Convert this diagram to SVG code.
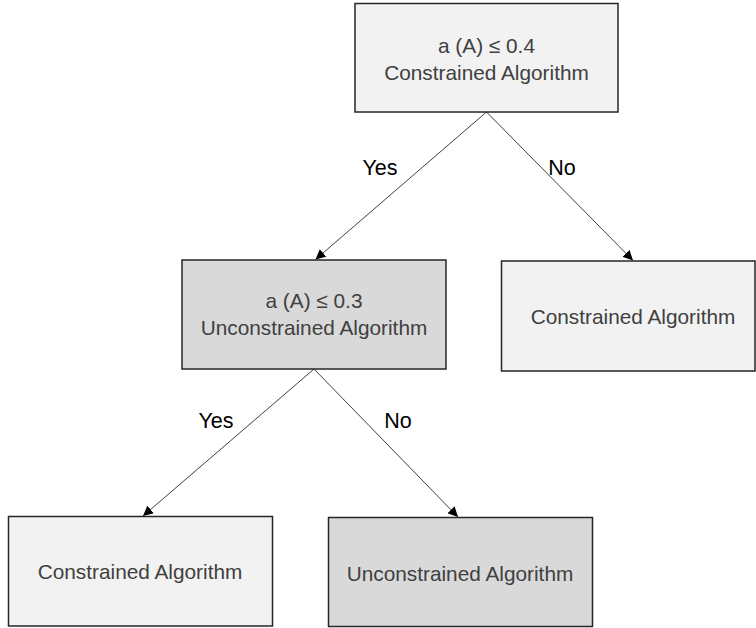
<svg xmlns="http://www.w3.org/2000/svg" width="756" height="628" viewBox="0 0 756 628">
<style>
.box{stroke:#262626;stroke-width:1.5}
.light{fill:#f2f2f2}
.dark{fill:#d9d9d9}
.t{font-family:"Liberation Sans",Arial,sans-serif;font-size:20.8px;fill:#404040;text-anchor:middle}
.lbl{font-family:"Liberation Sans",Arial,sans-serif;font-size:21.5px;fill:#000;text-anchor:middle}
.edge{stroke:#404040;stroke-width:1;fill:none;marker-end:url(#arr)}
</style>
<defs>
<marker id="arr" viewBox="0 0 10 10" refX="10" refY="5" markerWidth="10" markerHeight="10" markerUnits="userSpaceOnUse" orient="auto">
<path d="M0,0 L10,5 L0,10 z" fill="#000"/>
</marker>
</defs>
<rect width="756" height="628" fill="#fff"/>
<g id="connectors">
<line class="edge" x1="486.5" y1="112" x2="315.5" y2="259.5"/>
<line class="edge" x1="486.5" y1="112" x2="633" y2="260.5"/>
<line class="edge" x1="314" y1="369" x2="143" y2="516"/>
<line class="edge" x1="314" y1="369" x2="458" y2="517"/>
<text class="lbl" x="380" y="175">Yes</text>
<text class="lbl" x="562" y="175">No</text>
<text class="lbl" x="216" y="428">Yes</text>
<text class="lbl" x="398" y="428">No</text>
</g>
<g id="root">
<rect class="box light" x="355" y="3.5" width="263" height="108.5"/>
<text class="t" x="486.5" y="53">a (A) ≤ 0.4</text>
<text class="t" x="486.5" y="80">Constrained Algorithm</text>
</g>
<g id="mid-left">
<rect class="box dark" x="182" y="260" width="264" height="109"/>
<text class="t" x="314" y="308">a (A) ≤ 0.3</text>
<text class="t" x="314" y="335">Unconstrained Algorithm</text>
</g>
<g id="mid-right">
<rect class="box light" x="501.5" y="261" width="253.5" height="110"/>
<text class="t" x="633" y="324">Constrained Algorithm</text>
</g>
<g id="bottom-left">
<rect class="box light" x="8.5" y="516.5" width="264" height="109.5"/>
<text class="t" x="140" y="579">Constrained Algorithm</text>
</g>
<g id="bottom-right">
<rect class="box dark" x="328.5" y="517.5" width="264" height="109"/>
<text class="t" x="460" y="581">Unconstrained Algorithm</text>
</g>
</svg>
